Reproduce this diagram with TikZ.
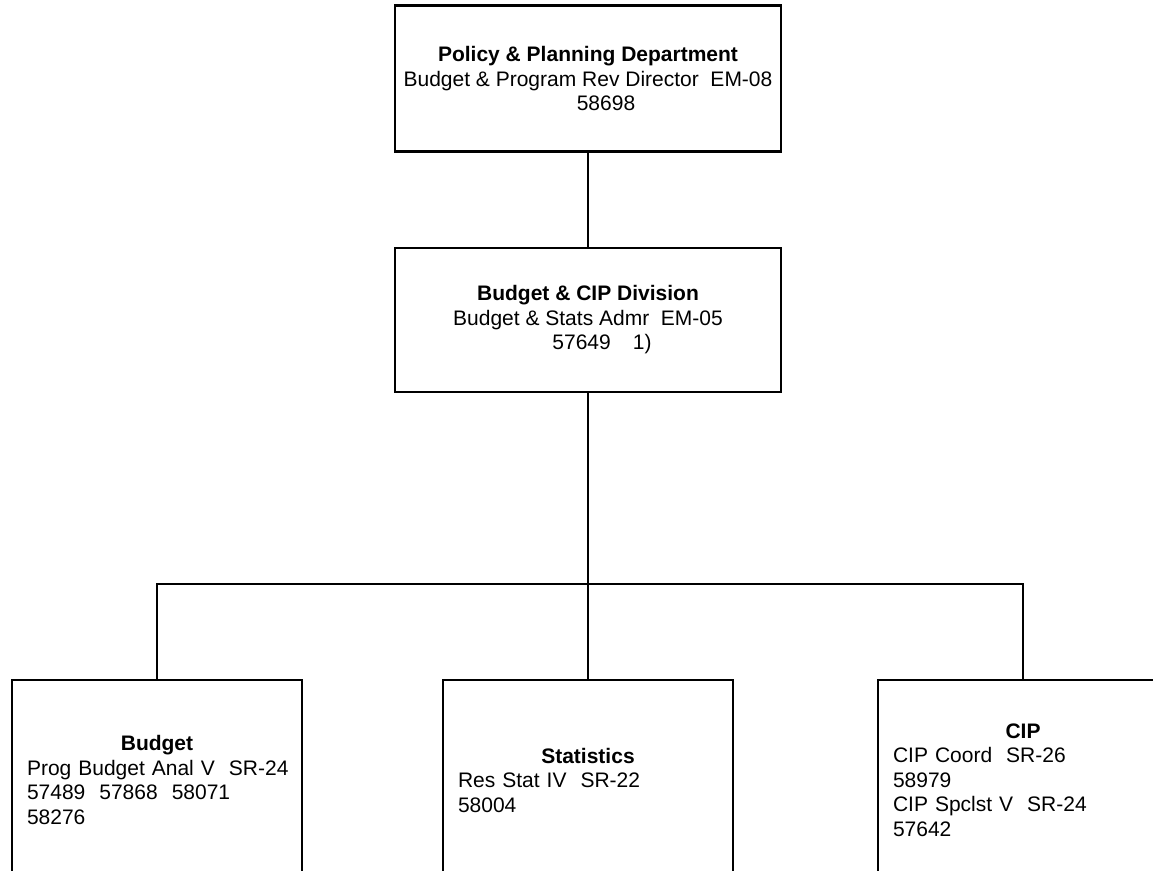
\documentclass[tikz,border=0pt]{standalone}
\usepackage{fontspec}
\setmainfont{Liberation Sans}

\begin{document}
\begin{tikzpicture}[x=0.5pt,y=-0.5pt]
\tikzset{edge/.style = {-, line width=0.9pt}}
\tikzset{office/.style = {shape=rectangle, draw, line width=1.2pt, align=center, inner sep=0pt, minimum width=193pt, minimum height=73pt, font=\fontsize{10.5}{12.25}\selectfont}}
\tikzset{unit/.style = {shape=rectangle, draw, line width=1.2pt, align=left, text width=130pt, inner xsep=7.5pt, inner ysep=0pt, minimum height=100pt, font=\fontsize{10.5}{12.25}\selectfont}}
\def \rowy {780}
\useasboundingbox (0,0) rectangle (1153,871);
\clip (0,0) rectangle (1153,871);
\node[office](policy) at (588,78.5) {\textbf{Policy \& Planning Department}\\Budget \& Program Rev Director\ \ EM-08\\\hspace*{18pt}58698};
\node[office, minimum height=72pt](division) at (588,320) {\textbf{Budget \& CIP Division}\\Budget \& Stats Admr\ \ EM-05\\\hspace*{14pt}57649\hspace{11pt}1)};
\node[unit](budget) at (157,\rowy) {\hfill\textbf{Budget}\hfill\null\\\mbox{Prog Budget Anal V\ \ SR-24}\\57489\ \ 57868\ \ 58071\\58276};
\node[unit](stats) at (588,\rowy) {\hfill\textbf{Statistics}\hfill\null\\\mbox{Res Stat IV\ \ SR-22}\\58004};
\node[unit](cip) at (1023,\rowy) {\hfill\textbf{CIP}\hfill\null\\\mbox{CIP Coord\ \ SR-26}\\58979\\\mbox{CIP Spclst V\ \ SR-24}\\57642};
\coordinate (bus) at (588,584);
\draw[edge] (policy) to (division);
\draw[edge] (division) to (stats);
\draw[edge] (budget.north) |- (bus) -| (cip.north);
\end{tikzpicture}
\end{document}
